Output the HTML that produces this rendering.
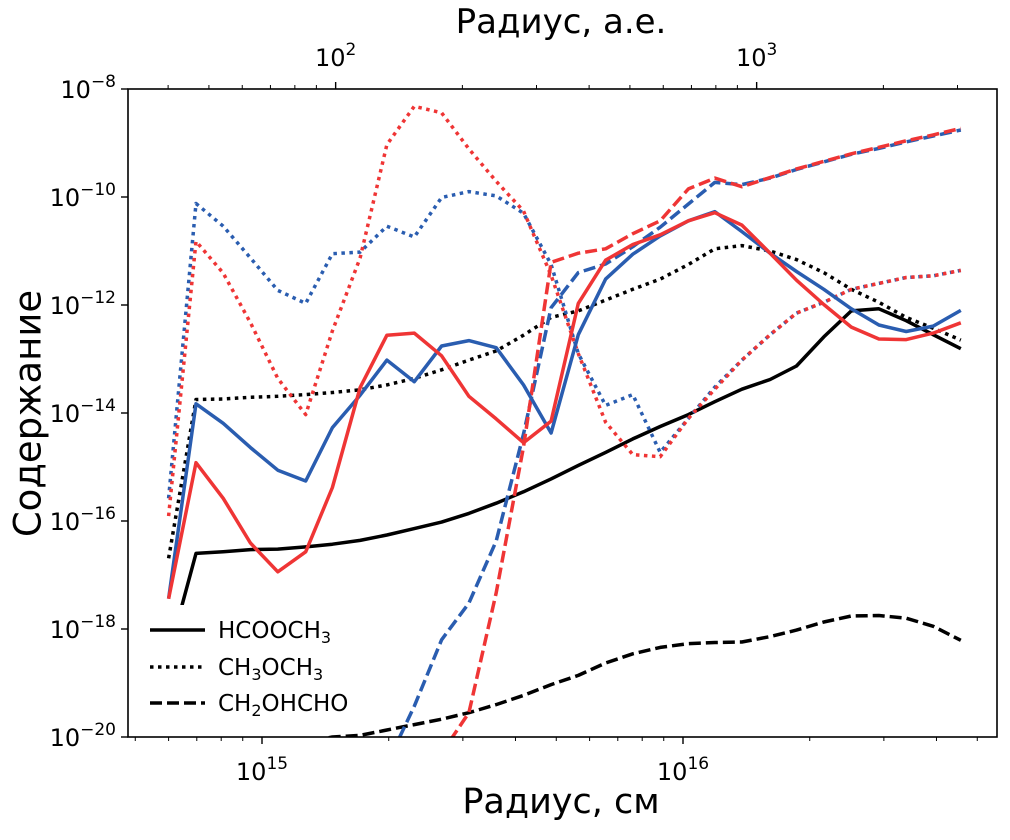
<!DOCTYPE html>
<html><head><meta charset="utf-8"><style>
body{margin:0;background:#fff}
svg text{font-family:"DejaVu Sans","Liberation Sans",sans-serif;fill:#000}
</style></head><body>
<svg id="chart" width="1010" height="835" viewBox="0 0 1010 835" xmlns="http://www.w3.org/2000/svg">
<defs><clipPath id="plotclip"><rect x="128" y="89" width="869" height="648"/></clipPath></defs>
<g id="marks" clip-path="url(#plotclip)"></g>
<g id="legend"></g>
<g id="axes"></g>
</svg>
<script>
const radii=[6.0e14,6.97e14,8.09e14,9.39e14,1.09e15,1.27e15,1.47e15,1.71e15,1.98e15,2.30e15,2.67e15,3.10e15,3.60e15,4.18e15,4.86e15,5.64e15,6.55e15,7.60e15,8.83e15,1.03e16,1.19e16,1.38e16,1.61e16,1.86e16,2.16e16,2.51e16,2.92e16,3.39e16,3.93e16,4.57e16];
const hcoochBlack=[-18.48,-16.60,-16.57,-16.53,-16.52,-16.48,-16.43,-16.36,-16.26,-16.14,-16.02,-15.86,-15.67,-15.46,-15.22,-14.97,-14.73,-14.48,-14.25,-14.03,-13.79,-13.56,-13.38,-13.13,-12.59,-12.11,-12.07,-12.29,-12.55,-12.81];
const dmeBlack=[-16.69,-13.75,-13.74,-13.71,-13.69,-13.66,-13.62,-13.57,-13.48,-13.36,-13.20,-13.02,-12.85,-12.56,-12.23,-12.11,-11.91,-11.71,-11.52,-11.25,-10.96,-10.90,-11.00,-11.16,-11.40,-11.71,-11.95,-12.23,-12.43,-12.65];
const gaBlack=[-21,-20.7,-20.5,-20.35,-20.2,-20.1,-20.0,-19.97,-19.87,-19.77,-19.67,-19.55,-19.40,-19.23,-19.03,-18.86,-18.63,-18.46,-18.34,-18.27,-18.25,-18.24,-18.14,-18.02,-17.87,-17.76,-17.75,-17.80,-17.95,-18.21];
const hcoochBlue=[-17.44,-13.83,-14.19,-14.64,-15.06,-15.26,-14.27,-13.67,-13.02,-13.42,-12.76,-12.66,-12.79,-13.48,-14.37,-12.55,-11.52,-11.06,-10.72,-10.44,-10.27,-10.64,-11.04,-11.38,-11.71,-12.07,-12.37,-12.49,-12.39,-12.10];
const hcoochRed=[-17.44,-14.92,-15.58,-16.41,-16.94,-16.57,-15.38,-13.53,-12.56,-12.52,-12.94,-13.69,-14.11,-14.55,-14.15,-11.97,-11.17,-10.88,-10.70,-10.44,-10.29,-10.52,-11.04,-11.54,-11.99,-12.41,-12.63,-12.64,-12.52,-12.33];
const dmeBlue=[-15.58,-10.12,-10.54,-11.13,-11.73,-11.97,-11.05,-11.02,-10.54,-10.74,-10.01,-9.90,-9.98,-10.30,-11.25,-12.90,-13.86,-13.66,-14.73,-14.10,-13.52,-13.02,-12.55,-12.15,-11.95,-11.71,-11.60,-11.49,-11.46,-11.36];
const dmeRed=[-15.91,-10.82,-11.41,-12.33,-13.36,-14.03,-12.48,-11.13,-9.03,-8.32,-8.44,-9.11,-9.71,-10.26,-11.45,-12.90,-14.17,-14.77,-14.81,-14.10,-13.56,-13.02,-12.55,-12.15,-11.95,-11.71,-11.60,-11.49,-11.46,-11.36];
const gaBlue=[-22,-22,-22,-22,-22,-22,-22,-22,-20.5,-19.43,-18.20,-17.52,-16.37,-14.39,-12.05,-11.40,-11.24,-10.92,-10.56,-10.13,-9.73,-9.77,-9.65,-9.49,-9.35,-9.21,-9.10,-8.98,-8.87,-8.76];
const gaRed=[-22,-22,-22,-22,-22,-22,-22,-22,-22,-22,-20.3,-19.55,-17.33,-14.63,-11.21,-11.04,-10.96,-10.68,-10.44,-9.85,-9.65,-9.81,-9.64,-9.48,-9.34,-9.20,-9.08,-8.96,-8.85,-8.73];
const yTicks=[-20,-18,-16,-14,-12,-10,-8];
const xMajor=[15,16];
const auMajor=[2,3];
const AU=1.496e13;

const NS="http://www.w3.org/2000/svg";
const L=128,R=997,T=89,B=737;
function xs(r){return 262+(Math.log10(r)-15)*421;}
function ys(lg){return B-(lg+20)*(B-T)/12;}
function el(tag,attrs,parent){const e=document.createElementNS(NS,tag);for(const k in attrs)e.setAttribute(k,attrs[k]);parent.appendChild(e);return e;}
const marks=document.getElementById('marks'),axes=document.getElementById('axes'),legend=document.getElementById('legend');
const BLUE='#2a5db0',RED='#ef3535',BLACK='#000';
const DOT='3.5 4.5',DASH='12 5';
const series=[
 [gaBlack,BLACK,DASH,'series-ch2ohcho-black'],
 [hcoochBlack,BLACK,null,'series-hcooch3-black'],
 [dmeBlack,BLACK,DOT,'series-ch3och3-black'],
 [dmeBlue,BLUE,DOT,'series-ch3och3-blue'],
 [dmeRed,RED,DOT,'series-ch3och3-red'],
 [gaBlue,BLUE,DASH,'series-ch2ohcho-blue'],
 [gaRed,RED,DASH,'series-ch2ohcho-red'],
 [hcoochBlue,BLUE,null,'series-hcooch3-blue'],
 [hcoochRed,RED,null,'series-hcooch3-red']
];
for(const [vals,col,dash,name] of series){
 const d=vals.map((v,i)=>(i?'L':'M')+xs(radii[i]).toFixed(1)+' '+ys(v).toFixed(1)).join(' ');
 const p=el('path',{d:d,fill:'none',stroke:col,'stroke-width':3.5,'stroke-linejoin':'round'},marks);
 if(dash)p.setAttribute('stroke-dasharray',dash);
 
 
}
const lbg=el('rect',{x:140,y:605,width:230,height:122,fill:'#fff'},legend);


const leg=[[null,630],[DOT,667],[DASH,703]];
leg.forEach(([dash,y],k)=>{
 const g=el('g',{},legend);
 
 
 const ln=el('line',{x1:150,x2:205,y1:y,y2:y,stroke:'#000','stroke-width':3.5},g);
 if(dash)ln.setAttribute('stroke-dasharray',dash);
 const t=el('text',{x:218,y:y+8,'font-size':23},g);
 if(k===0){t.innerHTML='HCOOCH<tspan font-size="16" dy="5">3</tspan>';}
 else if(k===1){t.innerHTML='CH<tspan font-size="16" dy="5">3</tspan><tspan dy="-5">OCH</tspan><tspan font-size="16" dy="5">3</tspan>';}
 else{t.innerHTML='CH<tspan font-size="16" dy="5">2</tspan><tspan dy="-5">OHCHO</tspan>';}
});
const fr=el('rect',{x:L,y:T,width:R-L,height:B-T,fill:'none',stroke:'#000','stroke-width':1.6},axes);


yTicks.forEach(v=>{
 const y=ys(v);
 el('line',{x1:L-7,x2:L,y1:y,y2:y,stroke:'#000','stroke-width':1.4},axes);
 const t=el('text',{x:L-12,y:y+9,'font-size':24,'text-anchor':'end'},axes);
 t.innerHTML='10<tspan font-size="17" dy="-11">−'+(-v)+'</tspan>';
 
 
});
for(let e=14;e<=16;e++){for(let m=1;m<10;m++){const r=m*Math.pow(10,e);const x=xs(r);if(x<L||x>R)continue;
 const len=m===1?7:4;el('line',{x1:x,x2:x,y1:B,y2:B+len,stroke:'#000','stroke-width':m===1?1.4:1},axes);}}
xMajor.forEach(e=>{const x=xs(Math.pow(10,e));
 const t=el('text',{x:x,y:780,'font-size':24,'text-anchor':'middle'},axes);
 t.innerHTML='10<tspan font-size="17" dy="-11">'+e+'</tspan>';
 
 
});
for(let e=1;e<=3;e++){for(let m=1;m<10;m++){const au=m*Math.pow(10,e);const x=xs(au*AU);if(x<L||x>R)continue;
 const len=m===1?7:4;el('line',{x1:x,x2:x,y1:T,y2:T-len,stroke:'#000','stroke-width':m===1?1.4:1},axes);}}
auMajor.forEach(e=>{const x=xs(Math.pow(10,e)*AU);
 const t=el('text',{x:x,y:66,'font-size':24,'text-anchor':'middle'},axes);
 t.innerHTML='10<tspan font-size="17" dy="-11">'+e+'</tspan>';
 
 
});
</script>
<div style="position:absolute;left:0;top:0;width:1010px;height:835px;pointer-events:none">
<div style="position:absolute;left:0;width:1122px;top:2px;text-align:center;font:34px 'DejaVu Sans','Liberation Sans',sans-serif">Радиус, а.е.</div>
<div style="position:absolute;left:0;width:1122px;top:782px;text-align:center;font:35px 'DejaVu Sans','Liberation Sans',sans-serif">Радиус, см</div>
<div style="position:absolute;left:-172px;width:400px;top:392px;text-align:center;transform:rotate(-90deg);font:37px 'DejaVu Sans','Liberation Sans',sans-serif">Содержание</div>
</div>
</body></html>
